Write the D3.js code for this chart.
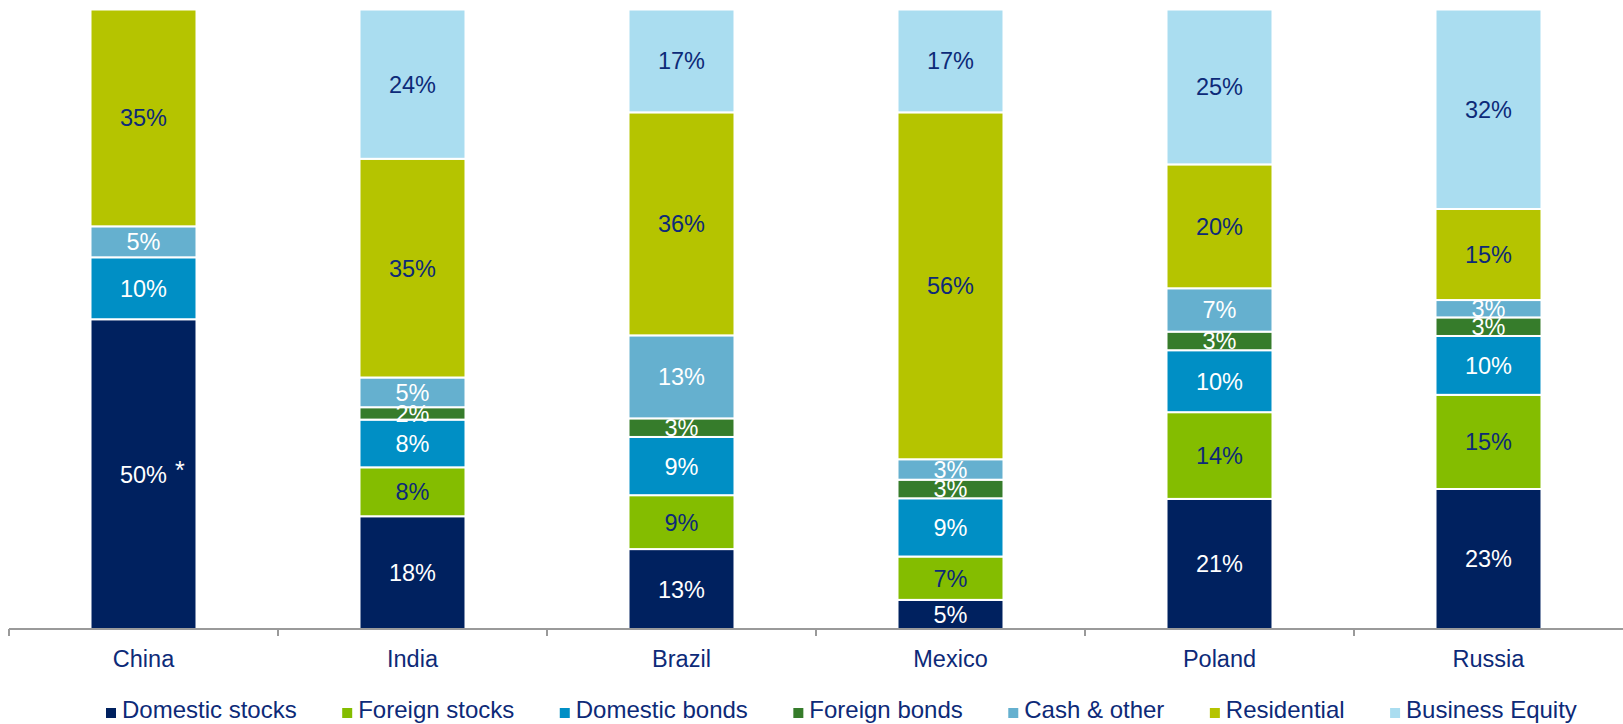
<!DOCTYPE html>
<html>
<head>
<meta charset="utf-8">
<script src="https://cdn.jsdelivr.net/npm/d3@7"></script>
<style>
  body { margin: 0; background: #fff; }
  svg { display: block; font-family: "Liberation Sans", Arial, sans-serif; }
</style>
</head>
<body>
<svg class="chart" width="1623" height="724"></svg>
<script>
// categories and series (percent of household wealth)
var countries = ["China", "India", "Brazil", "Mexico", "Poland", "Russia"];
var series = ["Domestic stocks", "Foreign stocks", "Domestic bonds", "Foreign bonds", "Cash & other", "Residential", "Business Equity"];

var domesticStocks = [50, 18.2, 12.9, 4.7, 21, 22.6];
var foreignStocks  = [0, 7.9, 8.7, 7, 14, 15.2];
var domesticBonds  = [10, 7.7, 9.4, 9.4, 10, 9.5];
var foreignBonds   = [0, 2, 3, 3, 3, 3];
var cashOther      = [5, 4.8, 13.4, 3.3, 7, 2.8];
var residential    = [35, 35.3, 36, 56, 20, 14.7];
var businessEquity = [0, 24.1, 16.6, 16.6, 25, 32.2];

var notes = {China: "*"};

var colors = ["#00215f", "#84bd00", "#008fc5", "#367c2b", "#65b0cf", "#b5c400", "#aaddf0"];
var labelColors = ["#ffffff", "#0d2a78", "#ffffff", "#ffffff", "#ffffff", "#0d2a78", "#0d2a78"];
var navy = "#0d2a78";

draw_chart();

function draw_chart(){

    // build rows for the stack
    var cols = [domesticStocks, foreignStocks, domesticBonds, foreignBonds, cashOther, residential, businessEquity];
    var rows = countries.map(function(c, i){
        var r = {country: c};
        series.forEach(function(s, j){ r[s] = cols[j][i]; });
        return r;
    });

    var stacked = d3.stack().keys(series)(rows);

    var svg = d3.select("svg.chart");
    var x0 = 9, x1 = 1623, yBase = 629, yTop = 9.5;

    var xBand = d3.scaleBand().domain(countries).range([x0, x1]);
    var xBar = d3.scaleBand().domain(countries).range([x0, x1])
        .paddingInner(0.606).paddingOuter(0.303);
    var y = d3.scaleLinear().domain([0, 100]).range([yBase, yTop]);
    var color = d3.scaleOrdinal().domain(series).range(colors);
    var labelColor = d3.scaleOrdinal().domain(series).range(labelColors);

    // bars
    var layer = svg.append("g")
        .selectAll("g.layer")
        .data(stacked)
        .enter()
        .append("g")
            .attr("class", "layer")
            .attr("fill", d => color(d.key));

    layer.selectAll("rect")
        .data(d => d.filter(p => p[1] - p[0] > 0))
        .enter()
        .append("rect")
            .attr("x", d => xBar(d.data.country))
            .attr("y", d => y(d[1]))
            .attr("width", xBar.bandwidth())
            .attr("height", d => y(d[0]) - y(d[1]))
            .style("stroke", "#fff")
            .style("stroke-width", 2);

    // value labels, drawn after all bars so they sit on top
    var labels = svg.append("g").attr("class", "labels");
    stacked.forEach(function(s){
        labels.append("g")
            .selectAll("text")
            .data(s.filter(p => p[1] - p[0] > 0))
            .enter()
            .append("text")
                .attr("x", d => xBar(d.data.country) + xBar.bandwidth() / 2)
                .attr("y", d => (y(d[0]) + y(d[1])) / 2)
                .attr("dy", "0.36em")
                .attr("text-anchor", "middle")
                .style("font-size", "23.5px")
                .style("fill", labelColor(s.key))
                .text(d => Math.round(d[1] - d[0]) + "%")
                .each(function(d){
                    // footnote marker next to the label
                    if (s.key == "Domestic stocks" && notes[d.data.country]){
                        var w = this.getComputedTextLength();
                        d3.select(this.parentNode).append("text")
                            .attr("x", xBar(d.data.country) + xBar.bandwidth() / 2 + w / 2 + 8)
                            .attr("y", (y(d[0]) + y(d[1])) / 2)
                            .attr("dy", "0.2em")
                            .style("font-size", "25px")
                            .style("fill", "#fff")
                            .text(notes[d.data.country]);
                    }
                });
    });

    // axis line and category boundary ticks
    var axis = svg.append("g").attr("class", "axis");
    axis.append("line")
        .attr("x1", x0).attr("x2", x1)
        .attr("y1", yBase).attr("y2", yBase)
        .style("stroke", "#9a9a9a").style("stroke-width", 2);

    axis.selectAll("line.tick")
        .data(countries)
        .enter()
        .append("line")
            .attr("class", "tick")
            .attr("x1", d => xBand(d)).attr("x2", d => xBand(d))
            .attr("y1", yBase).attr("y2", yBase + 7)
            .style("stroke", "#9a9a9a").style("stroke-width", 2);

    axis.selectAll("text")
        .data(countries)
        .enter()
        .append("text")
            .attr("x", d => xBand(d) + xBand.bandwidth() / 2)
            .attr("y", 667)
            .attr("text-anchor", "middle")
            .style("font-size", "23.5px")
            .style("fill", navy)
            .text(d => d);

    // legend
    var legend = svg.append("g").attr("class", "legend");
    var lx = 106;
    series.forEach(function(s){
        var g = legend.append("g").attr("transform", `translate(${lx},0)`);
        g.append("rect")
            .attr("x", 0).attr("y", 708)
            .attr("width", 10).attr("height", 10)
            .attr("fill", color(s));
        var t = g.append("text")
            .attr("x", 16).attr("y", 718)
            .style("font-size", "24px")
            .style("fill", navy)
            .text(s);
        lx += 16 + t.node().getComputedTextLength() + 45.5;
    });
}
</script>
</body>
</html>
